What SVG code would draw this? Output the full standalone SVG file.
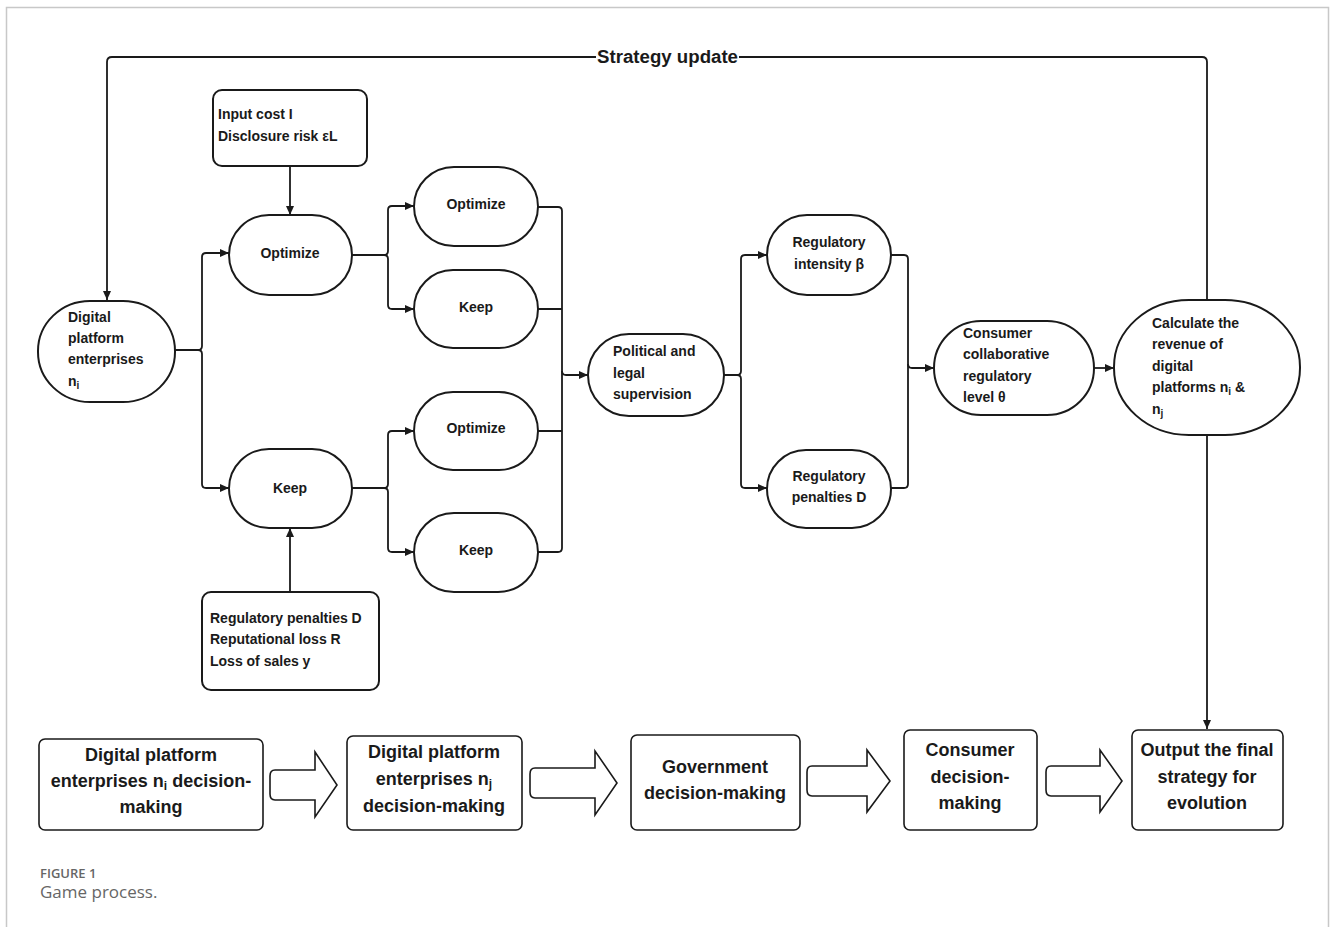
<svg xmlns="http://www.w3.org/2000/svg" width="1330" height="927" viewBox="0 0 1330 927">
<style>
.node{fill:#fff;stroke:#1a1a1a;stroke-width:2}
.box{fill:#fff;stroke:#1a1a1a;stroke-width:1.6}
.t{font-family:"Liberation Sans",Arial,sans-serif;font-size:14px;font-weight:bold;fill:#1a1a1a}
.c{text-anchor:middle}
.b{font-family:"Liberation Sans",Arial,sans-serif;font-size:18px;font-weight:bold;fill:#1a1a1a;text-anchor:middle}
.con{fill:none;stroke:#1a1a1a;stroke-width:1.8}
.blk{fill:#fff;stroke:#1a1a1a;stroke-width:1.6}
.cap{font-family:"Open Sans","Noto Sans",sans-serif;fill:#666}
</style>
<defs>
<marker id="ah" markerWidth="10" markerHeight="8" refX="9" refY="4" orient="auto" markerUnits="userSpaceOnUse">
<path d="M0,0 L9,4 L0,8 Z" fill="#1a1a1a"/>
</marker>
</defs>
<rect width="1330" height="927" fill="#fff"/>
<path d="M6.5 927 V7.5 H1328.5 V927" fill="none" stroke="#c8c8c8" stroke-width="1.5"/>

<g id="connectors">
<path class="con" d="M1207 300 V62 Q1207 57 1202 57 H739"/>
<path class="con" d="M596 57 H112 Q107 57 107 62 V300" marker-end="url(#ah)"/>
<path class="con" d="M1207 435 V729" marker-end="url(#ah)"/>
<path class="con" d="M175 350 H198 Q202 350 202 346 V257 Q202 253 206 253 H229" marker-end="url(#ah)"/>
<path class="con" d="M198 350 Q202 350 202 354 V484 Q202 488 206 488 H229" marker-end="url(#ah)"/>
<path class="con" d="M290 166 V215" marker-end="url(#ah)"/>
<path class="con" d="M290 592 V528" marker-end="url(#ah)"/>
<path class="con" d="M352 255 H384 Q388 255 388 251 V210 Q388 206 392 206 H414" marker-end="url(#ah)"/>
<path class="con" d="M384 255 Q388 255 388 259 V305 Q388 309 392 309 H414" marker-end="url(#ah)"/>
<path class="con" d="M352 488 H384 Q388 488 388 484 V435 Q388 431 392 431 H414" marker-end="url(#ah)"/>
<path class="con" d="M384 488 Q388 488 388 492 V548 Q388 552 392 552 H414" marker-end="url(#ah)"/>
<path class="con" d="M538 207 H558 Q562 207 562 211 V548 Q562 552 558 552 H538"/>
<path class="con" d="M538 309 H562 M538 431 H562"/>
<path class="con" d="M562 371 Q562 375 566 375 H588" marker-end="url(#ah)"/>
<path class="con" d="M724 375 H737 Q741 375 741 371 V259 Q741 255 745 255 H767" marker-end="url(#ah)"/>
<path class="con" d="M737 375 Q741 375 741 379 V484 Q741 488 745 488 H767" marker-end="url(#ah)"/>
<path class="con" d="M891 255 H904 Q908 255 908 259 V484 Q908 488 904 488 H891"/>
<path class="con" d="M908 364 Q908 368 912 368 H934" marker-end="url(#ah)"/>
<path class="con" d="M1094 368 H1114" marker-end="url(#ah)"/>
<text class="t" x="597" y="63" style="font-size:18px" textLength="141" lengthAdjust="spacingAndGlyphs">Strategy update</text>
</g>

<g id="n-digital">
<rect class="node" x="38" y="301" width="137" height="101" rx="52" ry="50"/>
<text class="t" x="68" y="322">Digital</text>
<text class="t" x="68" y="343">platform</text>
<text class="t" x="68" y="364">enterprises</text>
<text class="t" x="68" y="386">n<tspan font-size="10" dy="3">i</tspan></text>
</g>
<g id="n-input">
<rect class="node" x="213" y="90" width="154" height="76" rx="9"/>
<text class="t" x="218" y="119">Input cost I</text>
<text class="t" x="218" y="141">Disclosure risk εL</text>
</g>
<g id="n-opt1">
<rect class="node" x="229" y="215" width="123" height="80" rx="40"/>
<text class="t c" x="290" y="258">Optimize</text>
</g>
<g id="n-keep1">
<rect class="node" x="229" y="449" width="123" height="79" rx="40"/>
<text class="t c" x="290" y="493">Keep</text>
</g>
<g id="n-penbox">
<rect class="node" x="202" y="592" width="177" height="98" rx="9"/>
<text class="t" x="210" y="623">Regulatory penalties D</text>
<text class="t" x="210" y="644">Reputational loss R</text>
<text class="t" x="210" y="666">Loss of sales y</text>
</g>
<g id="n-opt2">
<rect class="node" x="414" y="167" width="124" height="79" rx="40"/>
<text class="t c" x="476" y="209">Optimize</text>
</g>
<g id="n-keep2">
<rect class="node" x="414" y="270" width="124" height="78" rx="39"/>
<text class="t c" x="476" y="312">Keep</text>
</g>
<g id="n-opt3">
<rect class="node" x="414" y="392" width="124" height="78" rx="39"/>
<text class="t c" x="476" y="433">Optimize</text>
</g>
<g id="n-keep3">
<rect class="node" x="414" y="513" width="124" height="79" rx="40"/>
<text class="t c" x="476" y="555">Keep</text>
</g>
<g id="n-political">
<rect class="node" x="588" y="334" width="136" height="82" rx="41"/>
<text class="t" x="613" y="356">Political and</text>
<text class="t" x="613" y="378">legal</text>
<text class="t" x="613" y="399">supervision</text>
</g>
<g id="n-regint">
<rect class="node" x="767" y="215" width="124" height="80" rx="40"/>
<text class="t c" x="829" y="247">Regulatory</text>
<text class="t c" x="829" y="269">intensity β</text>
</g>
<g id="n-regpen">
<rect class="node" x="767" y="450" width="124" height="78" rx="39"/>
<text class="t c" x="829" y="481">Regulatory</text>
<text class="t c" x="829" y="502">penalties D</text>
</g>
<g id="n-consumer">
<rect class="node" x="934" y="321" width="160" height="94" rx="47"/>
<text class="t" x="963" y="338">Consumer</text>
<text class="t" x="963" y="359">collaborative</text>
<text class="t" x="963" y="381">regulatory</text>
<text class="t" x="963" y="402">level θ</text>
</g>
<g id="n-calc">
<rect class="node" x="1114" y="300" width="186" height="135" rx="75" ry="67"/>
<text class="t" x="1152" y="328">Calculate the</text>
<text class="t" x="1152" y="349">revenue of</text>
<text class="t" x="1152" y="371">digital</text>
<text class="t" x="1152" y="392">platforms n<tspan font-size="10" dy="3">i</tspan><tspan dy="-3"> &amp;</tspan></text>
<text class="t" x="1152" y="414">n<tspan font-size="10" dy="3">j</tspan></text>
</g>

<g id="s1">
<rect class="box" x="39" y="739" width="224" height="91" rx="6"/>
<text class="b" x="151" y="761">Digital platform</text>
<text class="b" x="151" y="787">enterprises n<tspan font-size="12" dy="3">i</tspan><tspan dy="-3"> decision-</tspan></text>
<text class="b" x="151" y="813">making</text>
</g>
<g id="s2">
<rect class="box" x="347" y="736" width="175" height="94" rx="6"/>
<text class="b" x="434" y="758">Digital platform</text>
<text class="b" x="434" y="785">enterprises n<tspan font-size="12" dy="3">j</tspan></text>
<text class="b" x="434" y="812">decision-making</text>
</g>
<g id="s3">
<rect class="box" x="631" y="735" width="169" height="95" rx="6"/>
<text class="b" x="715" y="773">Government</text>
<text class="b" x="715" y="799">decision-making</text>
</g>
<g id="s4">
<rect class="box" x="904" y="730" width="133" height="100" rx="6"/>
<text class="b" x="970" y="756">Consumer</text>
<text class="b" x="970" y="783">decision-</text>
<text class="b" x="970" y="809">making</text>
</g>
<g id="s5">
<rect class="box" x="1132" y="730" width="151" height="100" rx="6"/>
<text class="b" x="1207" y="756">Output the final</text>
<text class="b" x="1207" y="783">strategy for</text>
<text class="b" x="1207" y="809">evolution</text>
</g>
<g id="block-arrows">
<path class="blk" d="M275 770 H315 V752 L337 785 L315 817 V800 H275 Q270 800 270 794 V776 Q270 770 275 770 Z"/>
<path class="blk" d="M535 768 H595 V751 L617 783 L595 815 V798 H535 Q530 798 530 792 V774 Q530 768 535 768 Z"/>
<path class="blk" d="M812 766 H867 V750 L890 781 L867 812 V796 H812 Q807 796 807 790 V772 Q807 766 812 766 Z"/>
<path class="blk" d="M1051 766 H1100 V750 L1122 781 L1100 812 V796 H1051 Q1046 796 1046 790 V772 Q1046 766 1051 766 Z"/>
</g>

<text class="cap" x="40" y="878" font-size="13" font-weight="600">FIGURE 1</text>
<text class="cap" x="40" y="898" font-size="17">Game process.</text>
</svg>
